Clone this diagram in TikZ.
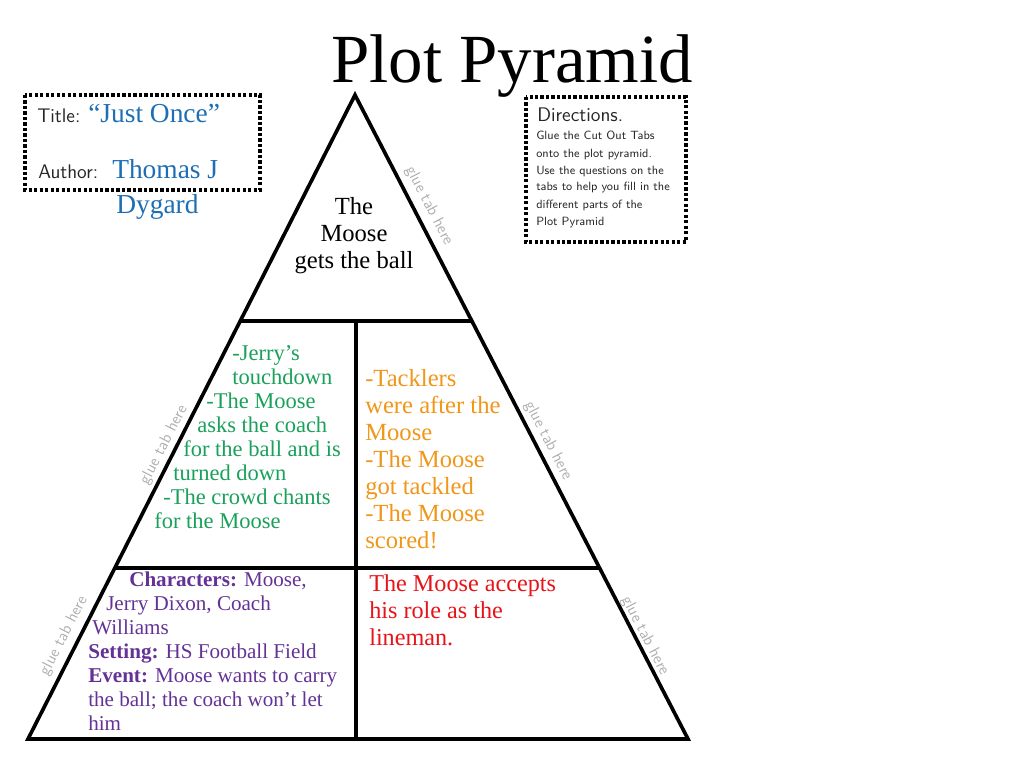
\documentclass[tikz,border=0pt]{standalone}
\usepackage{fontspec}
\setmainfont{Liberation Serif}
\usetikzlibrary{calc}

\definecolor{risegreen}{RGB}{25,160,90}
\definecolor{fallorange}{RGB}{240,150,25}
\definecolor{resred}{RGB}{230,20,25}
\definecolor{expopurple}{RGB}{100,50,150}
\definecolor{authblue}{RGB}{30,110,180}
\definecolor{gluegray}{RGB}{175,175,175}

\begin{document}
\begin{tikzpicture}[x=0.025cm,y=-0.025cm,
    edge/.style={line width=2.6pt, line join=miter},
    dotbox/.style={line width=2.6pt, dash pattern=on 2.3pt off 1.6pt},
    gluetab/.style={font=\sffamily\fontsize{11.5}{12}\selectfont, text=gluegray, inner sep=0pt},
    hand/.style={font=\sffamily\fontsize{14}{16}\selectfont, text=black!85, inner sep=0pt, anchor=base west},
    directions/.style={font=\sffamily\fontsize{8.5}{10}\selectfont, text=black!85, inner sep=0pt, anchor=base west},
    bookinfo/.style={font=\fontsize{19.5}{22}\selectfont, text=authblue, inner sep=0pt, anchor=base west},
    climax/.style={font=\fontsize{17.5}{19}\selectfont, inner sep=0pt, anchor=base},
    rising/.style={font=\fontsize{16}{18}\selectfont, text=risegreen, inner sep=0pt, anchor=base west},
    falling/.style={font=\fontsize{17.5}{19}\selectfont, text=fallorange, inner sep=0pt, anchor=base west},
    resolution/.style={font=\fontsize{17.2}{19}\selectfont, text=resred, inner sep=0pt, anchor=base west},
    expo/.style={font=\fontsize{15}{17}\selectfont, text=expopurple, inner sep=0pt, anchor=base west}]

    \useasboundingbox (0,0) rectangle (1024,768);

    % heading
    \node[font=\fontsize{49}{52}\selectfont, inner sep=0pt, anchor=base] (heading) at (512,83) {Plot Pyramid};

    % pyramid
    \coordinate (apex) at (355,95);
    \coordinate (baseleft) at (28,739);
    \coordinate (baseright) at (688,739);
    \coordinate (upleft) at ($(apex)!0.351!(baseleft)$);
    \coordinate (upright) at ($(apex)!0.351!(baseright)$);
    \coordinate (lowleft) at ($(apex)!0.7345!(baseleft)$);
    \coordinate (lowright) at ($(apex)!0.7345!(baseright)$);
    \coordinate (midtop) at (356,321);
    \coordinate (midbottom) at (356,739);

    \draw[edge] (apex) -- (baseleft) -- (baseright) -- cycle;
    \draw[edge] (upleft) -- (upright);
    \draw[edge] (lowleft) -- (lowright);
    \draw[edge] (midtop) -- (midbottom);

    % title box
    \draw[dotbox] (25,95) rectangle (260,190);
    \node[hand] (titlelabel) at (37,123) {Title:};
    \node[bookinfo] (booktitle) at (88,123) {“Just Once”};
    \node[hand] (authorlabel) at (38,178) {Author:};
    \node[bookinfo] (author) at (112,179) {Thomas J};
    \node[bookinfo] (author2) at (116,213) {Dygard};

    % directions box
    \draw[dotbox] (526,97) rectangle (686,242);
    \node[hand] (dirhead) at (537,122) {Directions.};
    \foreach \t [count=\i] in {Glue the Cut Out Tabs, onto the plot pyramid., Use the questions on the,
        tabs to help you fill in the, different parts of the, Plot Pyramid}
        \node[directions] (dir\i) at (536,123+17*\i) {\t};

    % climax
    \foreach \t [count=\i] in {The, Moose, gets the ball}
        \node[climax] (climax\i) at (354,187+27*\i) {\t};

    % rising action
    \foreach \x/\y/\t [count=\i] in {232/360/{-Jerry’s}, 232/384/{touchdown}, 206/408/{-The Moose},
        197/432/{asks the coach}, 183/456/{for the ball and is}, 173/480/{turned down},
        163/504/{-The crowd chants}, 154/528/{for the Moose}}
        \node[rising] (rise\i) at (\x,\y) {\t};

    % falling action
    \foreach \t [count=\i] in {-Tacklers, were after the, Moose, -The Moose, got tackled, -The Moose, scored!}
        \node[falling] (fall\i) at (365,359+27*\i) {\t};

    % resolution
    \foreach \t [count=\i] in {The Moose accepts, his role as the, lineman.}
        \node[resolution] (res\i) at (369,564+27*\i) {\t};

    % exposition
    \foreach \x/\y/\t [count=\i] in {129/586/{\textbf{Characters:} Moose,}, 106/610/{Jerry Dixon, Coach},
        92/634/{Williams}, 88/658/{\textbf{Setting:} HS Football Field},
        88/682/{\textbf{Event:} Moose wants to carry}, 88/706/{the ball; the coach won’t let}, 88/730/{him}}
        \node[expo] (expo\i) at (\x,\y) {\t};

    % glue tabs
    \node[gluetab, rotate=-62.7] (tabtop) at (429,206) {glue tab here};
    \node[gluetab, rotate=-62.7] (tabright) at (548,441) {glue tab here};
    \node[gluetab, rotate=-62.7] (tablowright) at (645,636) {glue tab here};
    \node[gluetab, rotate=62.7] (tableft) at (164,445) {glue tab here};
    \node[gluetab, rotate=62.7] (tablowleft) at (64,636) {glue tab here};
\end{tikzpicture}
\end{document}
